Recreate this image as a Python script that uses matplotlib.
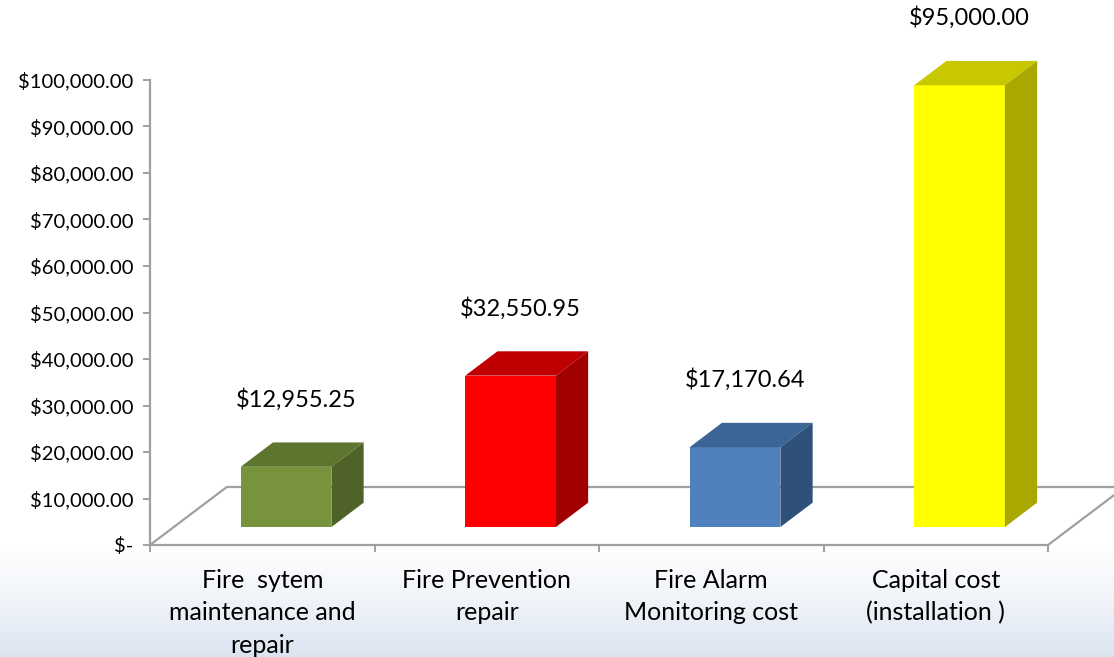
import numpy as np
import matplotlib
matplotlib.use("Agg")
import matplotlib.pyplot as plt
from matplotlib.patches import Polygon
from matplotlib.ticker import FuncFormatter, FixedLocator

# --- Data ---
categories = ["Fire  sytem\nmaintenance and\nrepair", "Fire Prevention\nrepair",
              "Fire Alarm\nMonitoring cost", "Capital cost\n(installation )"]
values = [12955.25, 32550.95, 17170.64, 95000.00]
front_colors = ["#77933C", "#FF0000", "#4F81BD", "#FFFF00"]
top_colors = ["#5E7530", "#C00000", "#3A6594", "#C8C800"]
side_colors = ["#4F6228", "#A00000", "#2F5179", "#A8A800"]
y_ticks = np.arange(0, 100001, 10000)

plt.rcParams['font.family'] = ['Lato', 'DejaVu Sans']

# --- 3D look: depth vector of the floor (in data units) ---
floor_dx, floor_dy = 0.342, 12470     # full floor depth
bar_front = 0.31                     # bar starts this far into the floor
bar_depth = 0.42                     # bar depth as fraction of floor depth
bar_width = 0.404
grid_col = "#a0a0a0"

fig = plt.figure(figsize=(11.14, 6.57), dpi=100)

# light blue band at the bottom of the slide
bg = fig.add_axes([0, 0, 1, 112 / 657], zorder=-5)
grad = np.linspace(0, 1, 100)[:, None]
c_top = np.array([1.0, 1.0, 1.0])
c_bot = np.array([218, 227, 240]) / 255
img = c_bot + (c_top - c_bot) * grad ** 0.8
bg.imshow(img[:, None, :].repeat(2, axis=1), aspect='auto', origin='lower', extent=[0, 1, 0, 1])
bg.axis('off')

ax = fig.add_axes([150 / 1114, 112 / 657, 898 / 1114, 465 / 657])
ax.set_facecolor('none')
ax.set_xlim(-0.5, 3.5)
ax.set_ylim(0, 100000)

# floor outline
x0, x1 = -0.5, 3.5
floor = [(x0, 0), (x1, 0), (x1 + floor_dx, floor_dy), (x0 + floor_dx, floor_dy), (x0, 0)]
fx, fy = zip(*floor)
ax.plot(fx, fy, color=grid_col, lw=1.6, clip_on=False, zorder=1)

# bars
ddx, ddy = floor_dx * bar_depth, floor_dy * bar_depth
for i, v in enumerate(values):
    left = i - bar_width / 2 + floor_dx * bar_front
    base = floor_dy * bar_front
    right = left + bar_width
    top = base + v
    front = Polygon([(left, base), (right, base), (right, top), (left, top)],
                    closed=True, facecolor=front_colors[i], edgecolor='none', zorder=3, clip_on=False)
    roof = Polygon([(left, top), (right, top), (right + ddx, top + ddy), (left + ddx, top + ddy)],
                   closed=True, facecolor=top_colors[i], edgecolor='none', zorder=3, clip_on=False)
    side = Polygon([(right, base), (right + ddx, base + ddy), (right + ddx, top + ddy), (right, top)],
                   closed=True, facecolor=side_colors[i], edgecolor='none', zorder=3, clip_on=False)
    for p in (front, roof, side):
        ax.add_patch(p)
    ax.text(i + floor_dx * bar_front + 0.045, top + 14500, f"${v:,.2f}",
            ha='center', va='center', fontsize=17, color='black', clip_on=False)

# axes styling
for s in ['top', 'right', 'bottom']:
    ax.spines[s].set_visible(False)
ax.spines['left'].set_color(grid_col)
ax.spines['left'].set_linewidth(1.6)
ax.yaxis.set_major_locator(FixedLocator(y_ticks))
ax.yaxis.set_major_formatter(FuncFormatter(lambda v, p: "$-" if v == 0 else f"${v:,.2f}"))
ax.tick_params(axis='y', length=5, width=1.4, color=grid_col, labelsize=14.6, pad=7)

ax.set_xticks(np.arange(-0.5, 4, 1))
ax.set_xticklabels([])
ax.tick_params(axis='x', which='major', length=5, width=1.4, color=grid_col, direction='out')
ax.set_xticks(np.arange(4), minor=True)
ax.set_xticklabels(categories, minor=True, fontsize=18, linespacing=1.5)
ax.tick_params(axis='x', which='minor', length=0, pad=17)

fig.savefig("out.png", dpi=100)
